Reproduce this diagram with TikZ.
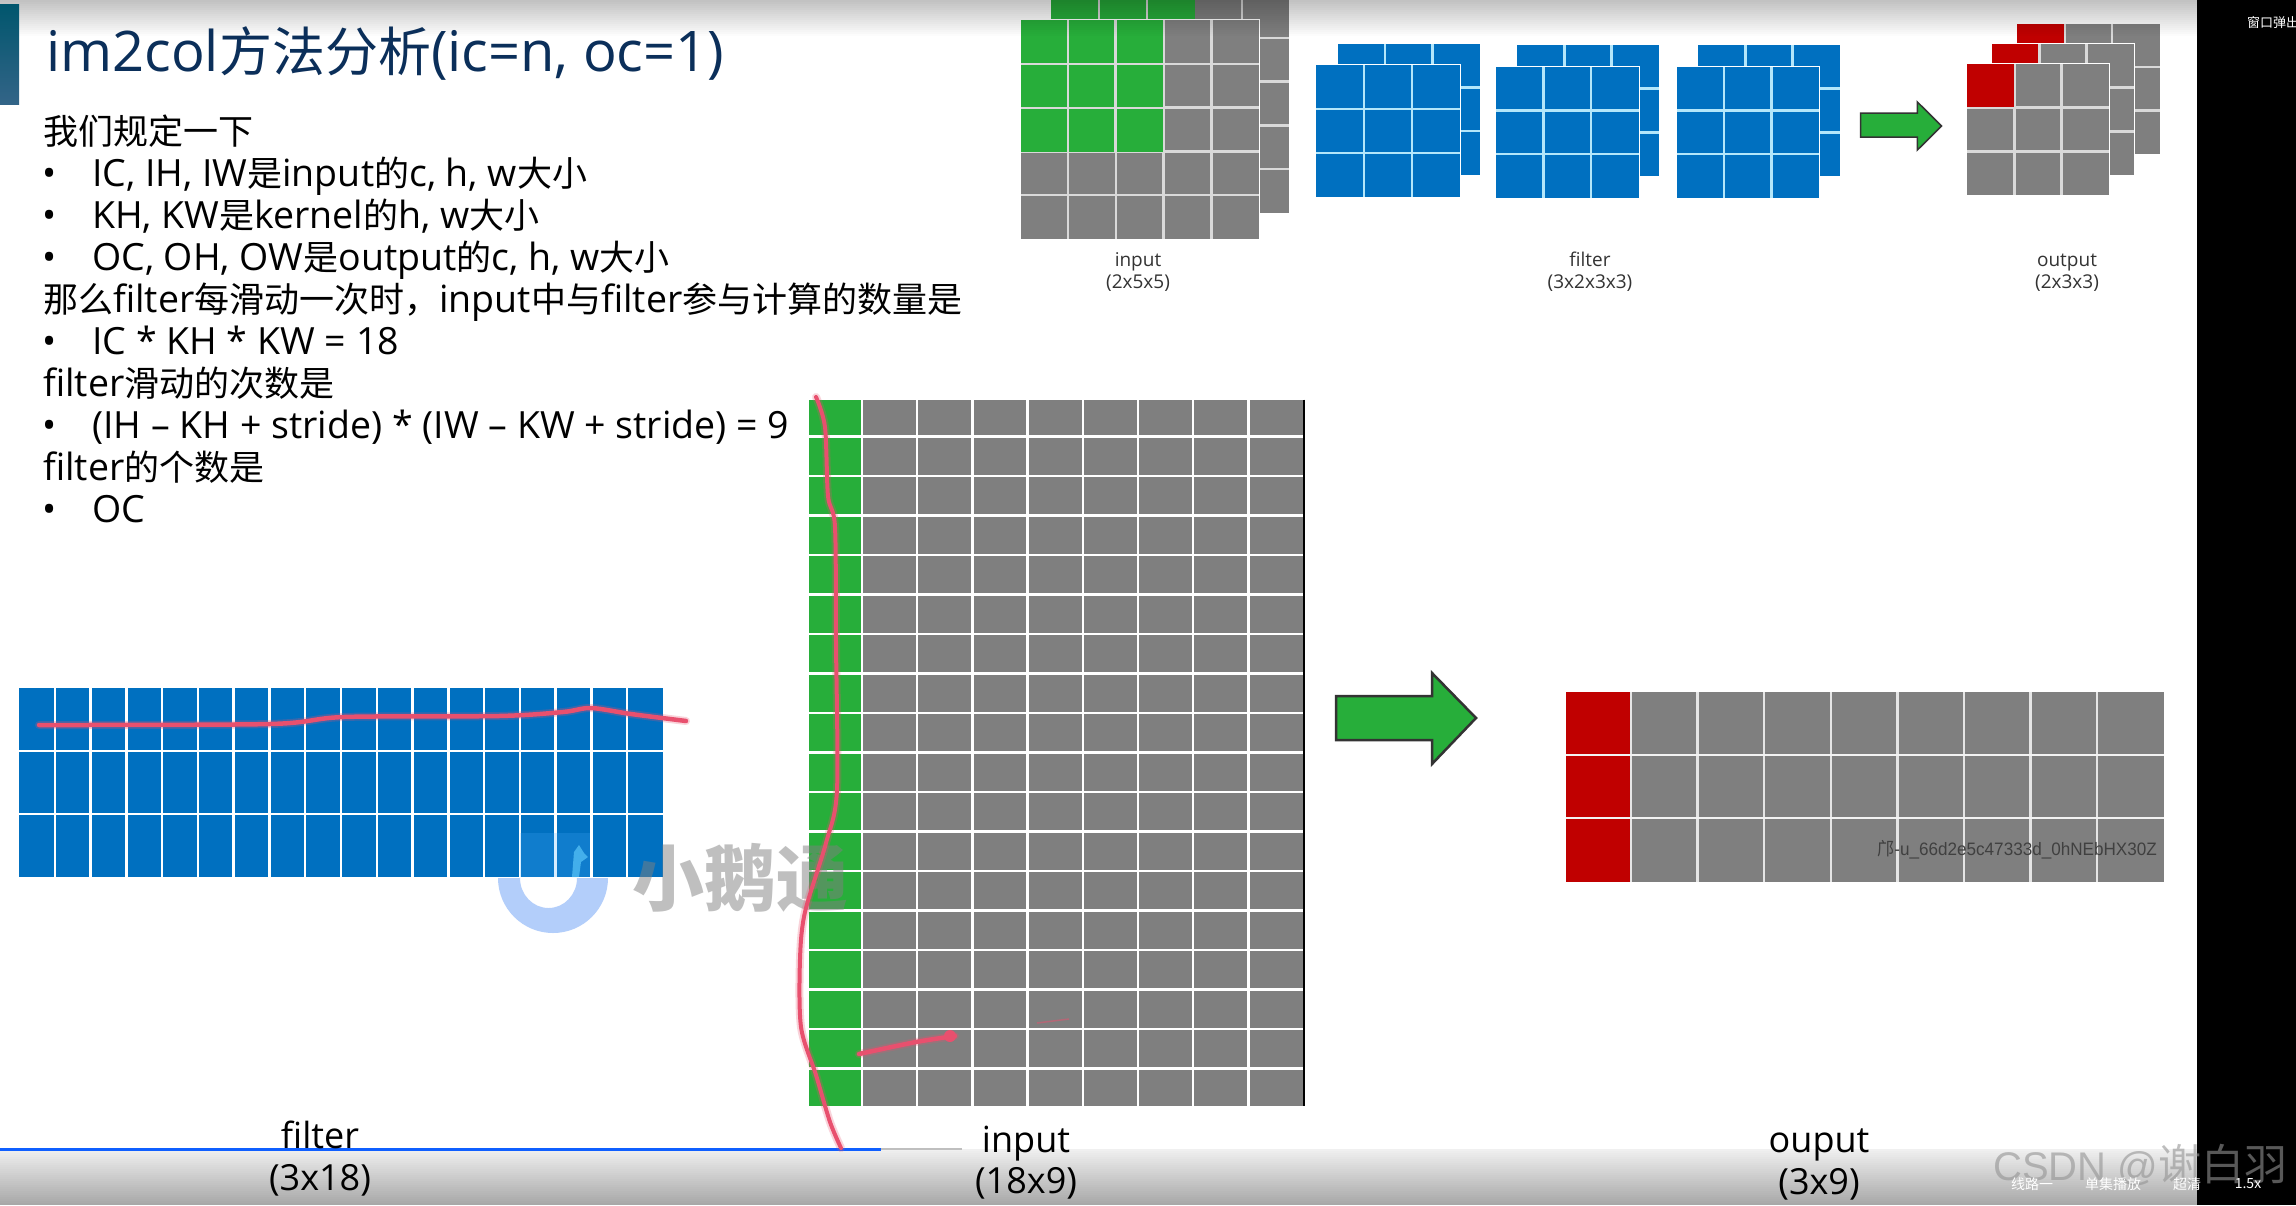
\documentclass[tikz,border=0pt]{standalone}
\usepackage{fontspec}
\usetikzlibrary{calc}
\setmainfont{Open Sans}
\newfontfamily\cjkf{Noto Sans CJK SC}
\newfontfamily\arialf{Liberation Sans}
\newcommand{\C}[1]{{\cjkf\fontsize{35}{35}\selectfont #1}}
\definecolor{cgreen}{HTML}{27AE3A}
\definecolor{cgray}{HTML}{7F7F7F}
\definecolor{cblue}{HTML}{0070C0}
\definecolor{cred}{HTML}{C00000}
\definecolor{cink}{HTML}{E8506E}
\definecolor{ctitle}{HTML}{0B2F5A}
\definecolor{cring}{HTML}{B3CEFA}
\definecolor{cline}{HTML}{0F5FFF}
% grid: x0,y0,x1,y1,cols,rows,colour,linecolour
\newcommand{\cellgrid}[8]{%
  \fill[#7] (#1,#2) rectangle (#3,#4);
  \pgfmathsetmacro{\dxx}{(#3-#1)/#5}
  \pgfmathsetmacro{\dyy}{(#4-#2)/#6}
  \foreach \ii in {1,...,#5}{\ifnum\ii<#5\relax\draw[gridline,#8] ({#1+\ii*\dxx},#2) -- ({#1+\ii*\dxx},#4);\fi}
  \foreach \jj in {1,...,#6}{\ifnum\jj<#6\relax\draw[gridline,#8] (#1,{#2+\jj*\dyy}) -- (#3,{#2+\jj*\dyy});\fi}
}
\tikzset{
  gridline/.style={line width=2.4pt},
  body/.style={anchor=west,inner sep=0pt,text height=30pt,text depth=6pt,font=\fontsize{37.5}{38}\selectfont,text=black},
  small/.style={inner sep=0pt,text height=15pt,text depth=5pt,font=\fontsize{19}{19}\selectfont,text=black!80},
  big/.style={inner sep=0pt,text height=28pt,text depth=8pt,font=\fontsize{36}{36}\selectfont,text=black},
  ink/.style={draw=cink,line width=4.5pt,line cap=round,line join=round},
  inkhalo/.style={draw=cink,line width=8pt,opacity=.25,line cap=round,line join=round},
  bigarrow/.style={fill=cgreen,draw=black!80,line width=2.5pt,line join=miter},
  ui/.style={inner sep=0pt,font=\cjkf\fontsize{14}{14}\selectfont,text=white},
}
\begin{document}
\begin{tikzpicture}[x=1pt,y=-1pt]
\useasboundingbox (0,0) rectangle (2296,1205);
\fill[white] (0,0) rectangle (2296,1205);

% --- top input stack
\cellgrid{1051.4}{-6}{1289.4}{213}{5}{5}{cgray}{white!85!black}
\cellgrid{1051.4}{-6}{1194.5}{38}{3}{1}{cgreen}{white!85!black}
\fill[white] (1020,19) rectangle (1260,240);
\cellgrid{1020.6}{20}{1259}{239}{5}{5}{cgray}{white!85!black}
\cellgrid{1020.6}{20}{1163}{152}{3}{3}{cgreen}{white!85!black}
\node[small] (l1a) at (1138,261) {input};
\node[small] (l1b) at (1138,283) {(2x5x5)};

% --- top filters
\cellgrid{1337.7}{43.7}{1480}{174.7}{3}{3}{cblue}{cyan!30!white}
\fill[white] (1315,64) rectangle (1460.5,198);
\cellgrid{1316.3}{65}{1459.5}{197}{3}{3}{cblue}{cyan!30!white}
\cellgrid{1517}{45}{1659}{176}{3}{3}{cblue}{cyan!30!white}
\fill[white] (1495,66) rectangle (1640,199);
\cellgrid{1496}{66.7}{1638.5}{198}{3}{3}{cblue}{cyan!30!white}
\cellgrid{1698}{45}{1840}{176}{3}{3}{cblue}{cyan!30!white}
\fill[white] (1675.5,66) rectangle (1819.7,199);
\cellgrid{1676.5}{66.7}{1818.7}{198}{3}{3}{cblue}{cyan!30!white}
\node[small] (l2a) at (1590,261) {filter};
\node[small] (l2b) at (1590,283) {(3x2x3x3)};

% --- top arrow
\draw[bigarrow,line width=1.5pt] (1860.5,113) -- (1917.4,113) -- (1917.4,102) -- (1941.5,126) -- (1917.4,150) -- (1917.4,137) -- (1860.5,137) -- cycle;

% --- top output stack
\cellgrid{2017.4}{23.7}{2159.7}{154}{3}{3}{cgray}{white!85!black}
\fill[cred] (2017.4,23.7) rectangle (2064,44);
\fill[white] (1991,43) rectangle (2135,176);
\cellgrid{1992}{44}{2134}{175}{3}{3}{cgray}{white!85!black}
\fill[cred] (1992,44) rectangle (2038,64);
\fill[white] (1966,63) rectangle (2110,196);
\cellgrid{1967}{64}{2109}{195}{3}{3}{cgray}{white!85!black}
\fill[cred] (1967,64) rectangle (2013.5,107);
\node[small] (l3a) at (2067,261) {output};
\node[small] (l3b) at (2067,283) {(2x3x3)};

% --- large filter grid
\cellgrid{19}{688}{663}{877}{18}{3}{cblue}{white}

% --- large input grid
\fill[cgreen] (808.6,399.5) rectangle (861,1106);
\fill[cgray] (862,399.5) rectangle (1303,1106);
\foreach \ii in {0,...,7}{\draw[gridline,white] ({862+\ii*55.2},399.5) -- ({862+\ii*55.2},1106);}
\foreach \jj in {0,...,16}{\draw[gridline,white] (808.6,{436.5+\jj*39.5}) -- (1303,{436.5+\jj*39.5});}
\draw[black,line width=2.6pt] (1304,399.5) -- (1304,1106);

% --- large output grid
\fill[cred] (1565.6,691.8) rectangle (1630,881.5);
\fill[cgray] (1631,691.8) rectangle (2164,881.5);
\foreach \ii in {0,...,7}{\draw[gridline,white!90!black] ({1631+\ii*66.6},691.8) -- ({1631+\ii*66.6},881.5);}
\foreach \jj in {0,1}{\draw[gridline,white!95!black] (1565.6,{755+\jj*63.2}) -- (2164,{755+\jj*63.2});}
\draw[bigarrow] (1336,696) -- (1432,696) -- (1432,673) -- (1476,718) -- (1432,764) -- (1432,740) -- (1336,740) -- cycle;

% --- watermarks
\fill[cring] (498,878) arc[start angle=180,end angle=0,radius=55] -- (577,878) arc[start angle=0,end angle=180,x radius=28.5,y radius=30] -- cycle;
\fill[blue!45!cyan!70!white,opacity=.22] (520,833) rectangle (590,877);
\fill[blue!30!cyan!60!white,opacity=.6] (572,877) -- (574,852) -- (579,845) -- (584,853) -- (588,857) -- (581,862) -- (579,877) -- cycle;
\node[inner sep=0pt,font=\cjkf\fontsize{72}{72}\selectfont\bfseries,text=gray,opacity=.5] (wm) at (740,878) {小鹅通};
\node[anchor=east,inner sep=0pt,font=\arialf\fontsize{18}{18}\selectfont,text=black!75,xscale=.95] (code) at (2157,850) {{\cjkf\fontsize{18}{18}\selectfont 邝}-u\_66d2e5c47333d\_0hNEbHX30Z};

% --- black side panel
\fill[black] (2197,0) rectangle (2296,1205);

% --- top shade and bottom shade
\foreach \k in {0,...,17}{\fill[black,opacity={0.24*(1-\k/18)}] (0,{\k*2}) rectangle (2197,{\k*2+2.05});}
\foreach \k in {0,...,27}{\fill[black,opacity={0.05+0.29*((\k+1)/28)}] (0,{1149+\k*2}) rectangle (2197,{1149+\k*2+2.05});}

% --- ink
\draw[line width=3pt,draw=cline] (0,1149) -- (881,1149);
\draw[line width=2pt,draw=black!25] (881,1149) -- (962,1149);
\draw[inkhalo] plot[smooth,tension=.5] coordinates {(39,725) (270,724) (344,717) (499,716) (563,712) (591,708) (631,714) (686,721)};
\draw[ink] plot[smooth,tension=.5] coordinates {(39,725) (270,724) (344,717) (499,716) (563,712) (591,708) (631,714) (686,721)};
\draw[inkhalo] plot[smooth,tension=.5] coordinates {(816,397) (825,427) (828,496) (835,527) (836,643) (837,790) (826,843) (805,912) (800,959) (801,1027) (816,1075) (830,1122) (841,1148)};
\draw[ink,line width=4pt] plot[smooth,tension=.5] coordinates {(816,397) (825,427) (828,496) (835,527) (836,643) (837,790) (826,843) (805,912) (800,959) (801,1027) (816,1075) (830,1122) (841,1148)};
\draw[inkhalo] plot[smooth,tension=.5] coordinates {(859,1054) (916,1042) (955,1036)};
\draw[ink] plot[smooth,tension=.5] coordinates {(859,1054) (916,1042) (955,1036)};
\fill[cink] (950,1036) circle (6);
\draw[draw=cink,line width=1.5pt,opacity=.5] (1037,1023) -- (1069,1019);

% --- side bar and title
\shade[top color=black!20!blue!25!cyan!45!black,bottom color=cblue!55!black!80!white] (0,4) rectangle (19,104);
\node[anchor=west,inner sep=0pt,text height=40pt,text depth=12pt,font=\fontsize{56}{56}\selectfont,text=ctitle] (title) at (46,57.5) {im2col{\cjkf\fontsize{53}{53}\selectfont 方法分析}(ic=n, oc=1)};

% --- body text
\node[body] (t0) at (43,132.6) {\C{我们规定一下}};
\node[body] (b1) at (42,174) {•};
\node[body] (t1) at (92,174) {IC, IH, IW\C{是}input\C{的}c, h, w\C{大小}};
\node[body] (b2) at (42,216) {•};
\node[body] (t2) at (92,216) {KH, KW\C{是}kernel\C{的}h, w\C{大小}};
\node[body] (b3) at (42,258) {•};
\node[body] (t3) at (92,258) {OC, OH, OW\C{是}output\C{的}c, h, w\C{大小}};
\node[body] (t4) at (43,300) {\C{那么}filter\C{每滑动一次时，}input\C{中与}filter\C{参与计算的数量是}};
\node[body] (b5) at (42,342) {•};
\node[body] (t5) at (92,342) {IC * KH * KW = 18};
\node[body] (t6) at (43,384) {filter\C{滑动的次数是}};
\node[body] (b7) at (42,426) {•};
\node[body] (t7) at (92,426) {(IH – KH + stride) * (IW – KW + stride) = 9};
\node[body] (t8) at (43,468) {filter\C{的个数是}};
\node[body] (b9) at (42,510) {•};
\node[body] (t9) at (92,510) {OC};

% --- large labels
\node[big] (fa) at (320,1138) {filter};
\node[big] (fb) at (320,1180) {(3x18)};
\node[big] (ia) at (1026,1142) {input};
\node[big] (ib) at (1026,1183) {(18x9)};
\node[big] (oa) at (1819,1142) {ouput};
\node[big] (ob) at (1819,1184) {(3x9)};

% --- player overlay
\node[inner sep=0pt,font=\cjkf\fontsize{13}{13}\selectfont,text=white,anchor=west] (win) at (2247,23) {窗口弹出};
\node[inner sep=0pt,font=\arialf\fontsize{40}{40}\selectfont,text=gray!85!white,opacity=.6,anchor=west] (csdn) at (1993,1165) {CSDN @{\cjkf\fontsize{43}{43}\selectfont 谢白羽}};
\node[ui] (u1) at (2032,1184) {线路一};
\node[ui] (u2) at (2113,1184) {单集播放};
\node[ui] (u3) at (2187,1184) {超清};
\node[ui] (u4) at (2248,1184) {1.5x};
\end{tikzpicture}
\end{document}
